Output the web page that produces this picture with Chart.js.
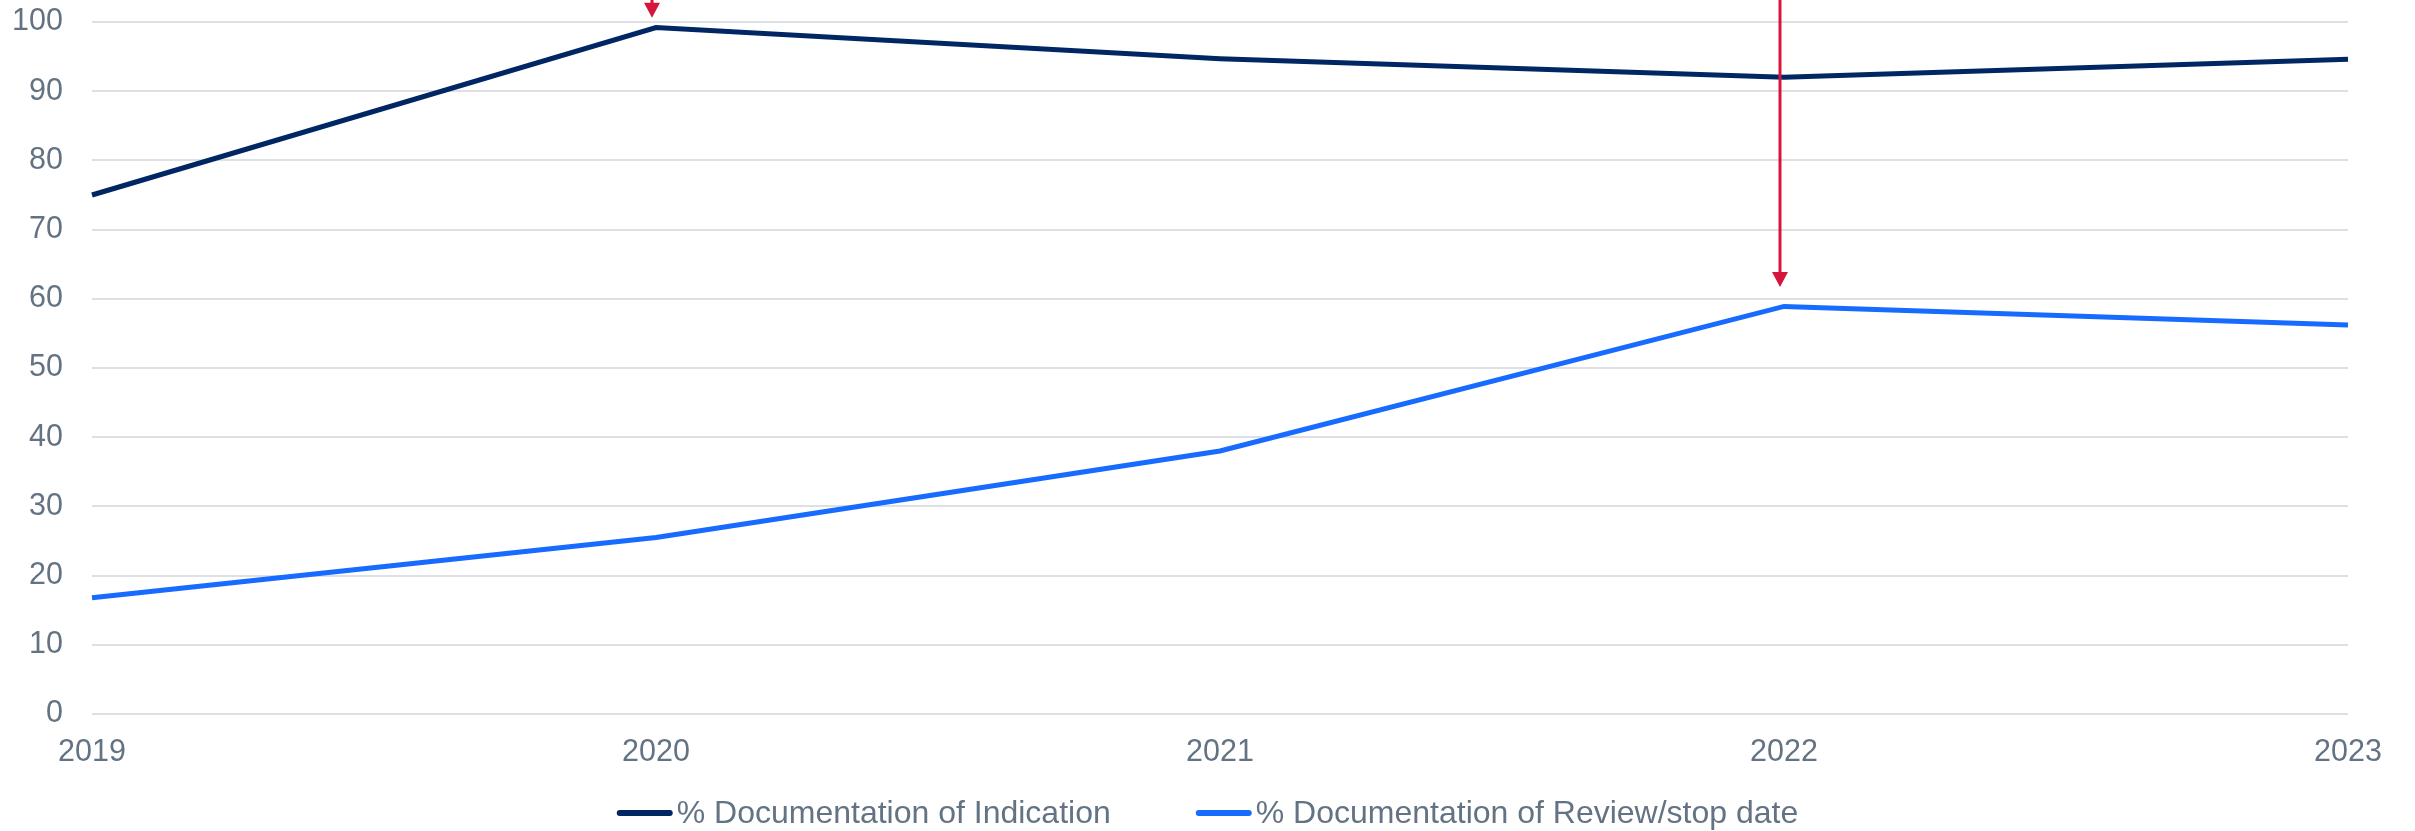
<!DOCTYPE html>
<html>
<head>
<meta charset="utf-8">
<script src="https://cdn.jsdelivr.net/npm/chart.js@4"></script>
<style>
  html, body { margin: 0; padding: 0; background: #ffffff; }
  #wrap { width: 2415px; height: 831px; position: relative; }
</style>
</head>
<body>
<div id="wrap"><canvas id="c"></canvas></div>
<script>
// ---- data ----
const years = ['2019', '2020', '2021', '2022', '2023'];
const indication = [75.0, 99.2, 94.7, 92.0, 94.6];
const reviewStop = [16.8, 25.5, 38.0, 58.9, 56.2];
const seriesNames = ['% Documentation of Indication', '% Documentation of Review/stop date'];
const yMin = 0;
const yMax = 100;
const yStep = 10;
// annotation arrows: category and the value the arrow tip points at
const arrowYears = ['2020', '2022'];
const arrowTips = [100.6, 61.7];

// ---- styles ----
const NAVY = '#002664';
const BLUE = '#176BFF';
const RED = '#D7143C';
const TEXT = '#637383';
const GRID = '#DDE1E6';
const FONT = "'Liberation Sans', Arial, sans-serif";
const TICK_SIZE = 30.5;
const LEGEND_SIZE = 32;

const arrowPlugin = {
  id: 'arrows',
  afterDatasetsDraw(chart) {
    const ctx = chart.ctx;
    const xs = chart.scales.x, ys = chart.scales.y;
    ctx.save();
    arrowYears.forEach((yr, i) => {
      const x = xs.getPixelForValue(years.indexOf(yr)) - 4;
      const tip = ys.getPixelForValue(arrowTips[i]);
      const headH = 15, headW = 8;
      ctx.strokeStyle = RED;
      ctx.lineWidth = 3;
      ctx.beginPath();
      ctx.moveTo(x, 0);
      ctx.lineTo(x, tip - headH + 1);
      ctx.stroke();
      ctx.fillStyle = RED;
      ctx.beginPath();
      ctx.moveTo(x - headW, tip - headH);
      ctx.lineTo(x + headW, tip - headH);
      ctx.lineTo(x, tip);
      ctx.closePath();
      ctx.fill();
    });
    ctx.restore();
  }
};

const legendPlugin = {
  id: 'customLegend',
  afterDraw(chart) {
    const ctx = chart.ctx;
    ctx.save();
    ctx.font = LEGEND_SIZE + 'px ' + FONT;
    const lineW = 56, gapText = 4, gapItem = 85;
    const items = chart.data.datasets.map(d => ({ label: d.label, color: d.borderColor, w: ctx.measureText(d.label).width }));
    let total = 0;
    items.forEach((it, i) => { total += lineW + gapText + it.w + (i < items.length - 1 ? gapItem : 0); });
    let x = chart.width / 2 - total / 2;
    const y = 813;
    items.forEach(it => {
      ctx.strokeStyle = it.color;
      ctx.lineWidth = 6;
      ctx.lineCap = 'round';
      ctx.beginPath();
      ctx.moveTo(x + 3, y);
      ctx.lineTo(x + lineW - 3, y);
      ctx.stroke();
      ctx.fillStyle = TEXT;
      ctx.textBaseline = 'middle';
      ctx.textAlign = 'left';
      ctx.fillText(it.label, x + lineW + gapText, y + 1);
      x += lineW + gapText + it.w + gapItem;
    });
    ctx.restore();
  }
};

new Chart(document.getElementById('c'), {
  type: 'line',
  data: {
    labels: years,
    datasets: [
      { label: seriesNames[0], data: indication, borderColor: NAVY, backgroundColor: NAVY, borderWidth: 5, pointRadius: 0, tension: 0 },
      { label: seriesNames[1], data: reviewStop, borderColor: BLUE, backgroundColor: BLUE, borderWidth: 5, pointRadius: 0, tension: 0 }
    ]
  },
  options: {
    responsive: true,
    maintainAspectRatio: false,
    devicePixelRatio: 1,
    animation: false,
    layout: { padding: { left: 0, right: 67, top: 22, bottom: 0 } },
    plugins: {
      legend: { display: false },
      tooltip: { enabled: false }
    },
    scales: {
      x: {
        grid: { display: false, drawTicks: false },
        border: { display: false },
        ticks: { color: TEXT, font: { size: TICK_SIZE, family: FONT }, padding: 20, maxRotation: 0, autoSkip: false },
        afterFit(s) { s.height = 117; }
      },
      y: {
        min: yMin,
        max: yMax,
        grid: { color: GRID, lineWidth: 2, drawTicks: false },
        border: { display: false },
        ticks: { stepSize: yStep, color: TEXT, font: { size: TICK_SIZE, family: FONT }, padding: 29 },
        afterFit(s) { s.width = 92; s.paddingTop = 0; s.paddingBottom = 0; }
      }
    }
  },
  plugins: [arrowPlugin, legendPlugin]
});
</script>
</body>
</html>
